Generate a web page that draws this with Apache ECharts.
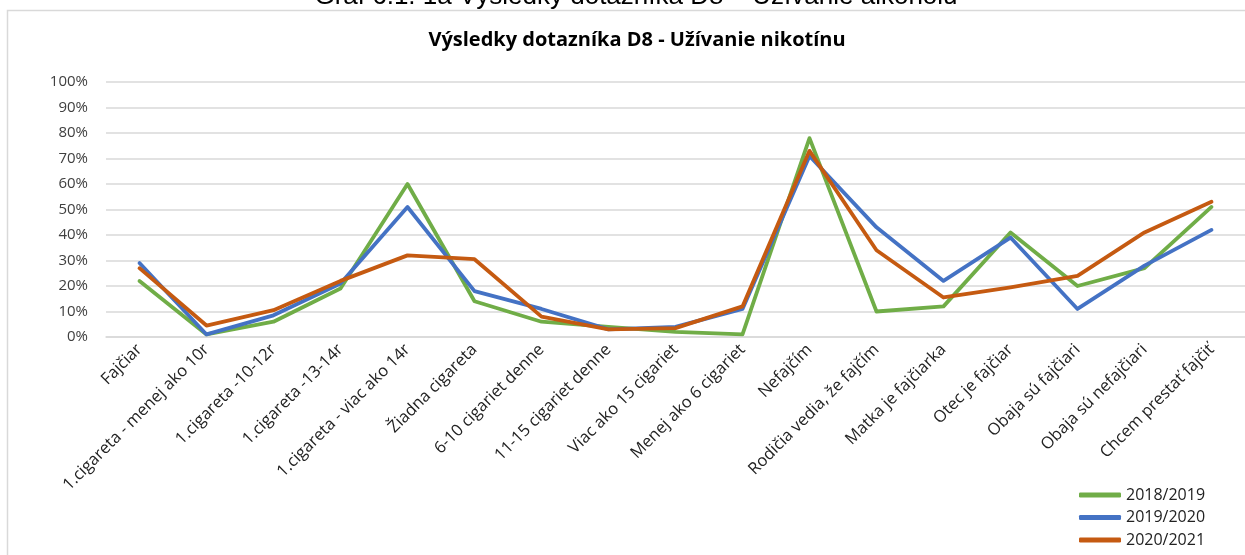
<!DOCTYPE html>
<html>
<head>
<meta charset="utf-8">
<script src="https://cdn.jsdelivr.net/npm/echarts@6/dist/echarts.min.js"></script>
<style>
  html, body { margin: 0; padding: 0; background: #fff; }
  #chart { width: 1245px; height: 555px; }
</style>
</head>
<body>
<div id="chart"></div>
<script>
const categories = [
  'Fajčiar', '1.cigareta - menej ako 10r', '1.cigareta -10-12r', '1.cigareta -13-14r',
  '1.cigareta - viac ako 14r', 'Žiadna cigareta', '6-10 cigariet denne', '11-15 cigariet denne',
  'Viac ako 15 cigariet', 'Menej ako 6 cigariet', 'Nefajčím', 'Rodičia vedia, že fajčím',
  'Matka je fajčiarka', 'Otec je fajčiar', 'Obaja sú fajčiari', 'Obaja sú nefajčiari',
  'Chcem prestať fajčiť'
];

// values in %
const s2018 = [22, 1, 6, 19, 60, 14, 6, 4, 2, 1, 78, 10, 12, 41, 20, 27, 51];
const s2019 = [29, 1, 8.5, 21, 51, 18, 11, 3, 4, 11, 71, 43, 22, 39, 11, 28, 42];
const s2020 = [27, 4.5, 10.5, 22, 32, 30.5, 8, 3, 3.5, 12, 73, 34, 15.5, 19.5, 24, 41, 53];

const seriesNames = ['2018/2019', '2019/2020', '2020/2021'];
const colors = ['#70AD47', '#4472C4', '#C55A11'];

const chart = echarts.init(document.getElementById('chart'));
const font = 'Open Sans';

chart.setOption({
  animation: false,
  color: colors,
  title: [
    {
      text: 'Graf 6.1. 1a Výsledky dotazníka D8 – Užívanie alkoholu',
      left: 631,
      textAlign: 'center',
      top: -21.5,
      textStyle: { fontFamily: 'Liberation Sans', fontSize: 26, fontWeight: 'normal', color: '#000' }
    },
    {
      text: 'Výsledky dotazníka D8 - Užívanie nikotínu',
      left: 632,
      textAlign: 'center',
      top: 25,
      textStyle: { fontFamily: font, fontSize: 20, fontWeight: 'bold', color: '#000' }
    }
  ],
  graphic: [{
    type: 'rect',
    shape: { x: 7.5, y: 10.5, width: 1300, height: 600 },
    style: { fill: '#fff', stroke: '#d9d9d9', lineWidth: 1.5 },
    z: -10,
    silent: true
  }],
  legend: {
    orient: 'vertical',
    left: 1079,
    top: 487,
    height: 100,
    padding: 0,
    itemWidth: 42,
    itemHeight: 5,
    itemGap: 6.5,
    icon: 'roundRect',
    textStyle: { fontFamily: font, fontSize: 16, color: '#222' },
    data: seriesNames
  },
  grid: { left: 106, width: 1148, top: 82, height: 255, containLabel: false },
  xAxis: {
    type: 'category',
    data: categories,
    boundaryGap: true,
    axisLine: { show: true, lineStyle: { color: '#d9d9d9', width: 1.5 } },
    axisTick: { show: false },
    axisLabel: {
      rotate: 45,
      interval: 0,
      margin: 10,
      fontFamily: font,
      fontSize: 16.5,
      color: '#222'
    }
  },
  yAxis: {
    type: 'value',
    min: 0,
    max: 100,
    interval: 10,
    axisLine: { show: false },
    axisTick: { show: false },
    axisLabel: {
      formatter: '{value}%',
      margin: 18,
      fontFamily: font,
      fontSize: 15,
      color: '#404040'
    },
    splitLine: { lineStyle: { color: '#d9d9d9', width: 1.5 } }
  },
  series: [s2018, s2019, s2020].map((d, i) => ({
    name: seriesNames[i],
    type: 'line',
    data: d,
    symbol: 'none',
    lineStyle: { width: 3.8, color: colors[i], cap: 'round', join: 'round' },
    itemStyle: { color: colors[i] }
  }))
});
</script>
</body>
</html>
